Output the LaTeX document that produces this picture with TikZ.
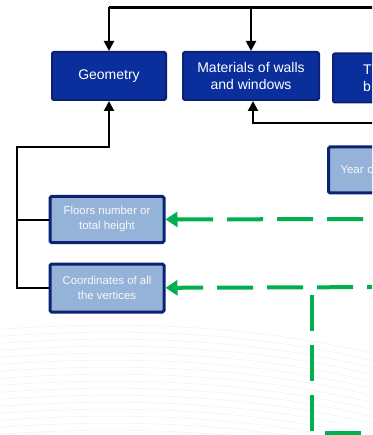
\documentclass[tikz,border=0pt]{standalone}
\usepackage{fontspec}
\setmainfont{Liberation Sans}
\usetikzlibrary{arrows.meta,positioning,calc}
\definecolor{sotetkek}{HTML}{0A2F9C}
\definecolor{keret}{HTML}{0B2272}
\definecolor{vilagos}{HTML}{95B2D9}
\definecolor{zold}{HTML}{00B050}
\definecolor{hullam}{HTML}{F0F4FA}
\tikzset{
  sotet/.style={draw=keret,line width=2pt,rounded corners=2pt,fill=sotetkek,text=white,align=center,
                font=\fontsize{14}{17}\selectfont,minimum height=48pt,inner sep=0pt},
  halvany/.style={draw=keret,line width=3pt,rounded corners=1.5pt,fill=vilagos,text=white!95!gray,align=center,
                  font=\fontsize{11.4}{15}\selectfont,minimum height=46pt,minimum width=114pt,inner sep=0pt},
  nyil/.style={-{Triangle[length=10pt,width=10pt]},line width=2pt},
  vonal/.style={line width=2pt},
  znyil/.style={-{Triangle[length=12pt,width=15pt]},draw=zold,line width=4pt,dash pattern=on 36pt off 14pt},
  zvonal/.style={draw=zold,line width=4pt,dash pattern=on 36pt off 14pt},
  hullamvonal/.style={draw=hullam,line width=0.7pt},
}
\begin{document}
\begin{tikzpicture}[x=1pt,y=-1pt]
  \useasboundingbox (0,0) rectangle (372,435);
  \clip (0,0) rectangle (372,435);
  % halvany hullamok a hatterben
  \foreach \k in {0,...,15}
    \draw[hullamvonal] (-10,330+\k*7) .. controls (120,320+\k*7) and (260,324+\k*7) .. (390,358+\k*7);
  % felso sor
  \node[sotet,minimum width=114pt] (geo) at (109,76) {Geometry};
  \node[sotet,minimum width=136pt] (mat) at (251,76) {Materials of walls\\and windows};
  \node[sotet,anchor=west,minimum height=49pt,text width=120pt,align=left,inner xsep=30pt] (th) at (332,78) {Th\\b};
  \node[halvany,anchor=west,text width=100pt,align=left,inner xsep=12pt] (ev) at (327,170) {Year o};
  % bal oldali adatok
  \node[halvany] (emelet) at (107,219.5) {Floors number or\\total height};
  \node[halvany,minimum height=48pt] (csucs) at (107,288) {Coordinates of all\\the vertices};
  % fekete nyilak
  \coordinate (fent) at (380,7.5);
  \coordinate (bal) at (17,147);
  \coordinate (jobb) at (380,123);
  \draw[line width=3.3pt] (fent) -- (fent -| geo.north) coordinate (g0);
  \draw[nyil] (g0) -- (geo);
  \draw[nyil] (fent -| mat.north) -- (mat);
  \draw[nyil] (jobb) -| ([xshift=2pt]mat.south);
  \draw[nyil] (csucs.west) -| (bal) -| (geo.south);
  \draw[vonal] (emelet.west) -- (emelet.west -| bal);
  % zold szaggatott nyilak
  \coordinate (z1) at (413,219);
  \coordinate (z2) at (403,287);
  \coordinate (z3) at (312,295);
  \coordinate (z4) at (312,445);
  \coordinate (z5) at (325,433);
  \coordinate (z6) at (420,433);
  \draw[znyil] (z1) -- (emelet);
  \draw[znyil] (z2) -- (csucs);
  \draw[zvonal] (z3) -- (z4);
  \draw[zvonal] (z5) -- (z6);
\end{tikzpicture}
\end{document}
